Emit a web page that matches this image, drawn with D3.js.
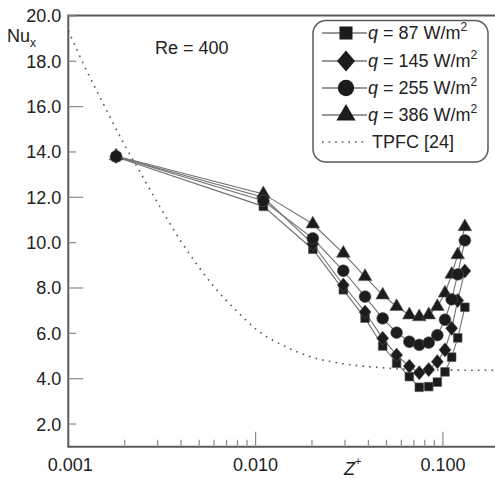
<!DOCTYPE html>
<html>
<head>
<meta charset="utf-8">
<script src="https://cdn.jsdelivr.net/npm/d3@7/dist/d3.min.js"></script>
<style>
  html, body { margin: 0; padding: 0; background: #fff; }
  svg { display: block; font-family: "Liberation Sans", Arial, Helvetica, sans-serif; }
</style>
</head>
<body>
<svg id="chart" width="495" height="479"></svg>
<script>
// Axial position Z+ shared by all measured series
const zPlus = [0.0018, 0.011, 0.0202, 0.0294, 0.0384, 0.0477, 0.0566, 0.0662, 0.0748, 0.084, 0.0934, 0.1026, 0.1114, 0.12, 0.131];

// Local Nusselt number for each heat flux
const nuQ87  = [13.78, 11.6, 9.71, 7.92, 6.67, 5.44, 4.68, 4.09, 3.62, 3.65, 3.85, 4.3, 4.95, 5.8, 7.15];
const nuQ145 = [13.8, 12.0, 9.95, 8.13, 6.94, 5.78, 5.04, 4.55, 4.26, 4.4, 4.75, 5.27, 6.22, 7.45, 8.75];
const nuQ255 = [13.8, 11.85, 10.19, 8.76, 7.62, 6.66, 6.03, 5.63, 5.49, 5.59, 5.92, 6.6, 7.5, 8.6, 10.1];
const nuQ386 = [13.82, 12.15, 10.82, 9.53, 8.5, 7.69, 7.18, 6.81, 6.73, 6.81, 7.18, 7.77, 8.6, 9.46, 10.7];

const seriesFlux = ["87", "145", "255", "386"];

// Rhombus a little narrower than it is tall
const symbolRhombus = {
  draw(context, size) {
    const h = Math.sqrt(size / 1.7);
    const w = h * 0.85;
    context.moveTo(0, -h);
    context.lineTo(w, 0);
    context.lineTo(0, h);
    context.lineTo(-w, 0);
    context.closePath();
  }
};
const seriesSymbols = [d3.symbolSquare, symbolRhombus, d3.symbolCircle, d3.symbolTriangle];

// Thermally developing flow correlation
const tpfcZ  = [0.001, 0.00125, 0.0015, 0.002, 0.0025, 0.003, 0.004, 0.005, 0.006, 0.008, 0.01, 0.015, 0.02, 0.03, 0.05, 0.1, 0.2];
const tpfcNu = [19.35, 17.6, 16.3, 14.3, 12.9, 11.75, 10.05, 8.9, 8.05, 6.95, 6.2, 5.35, 4.95, 4.65, 4.47, 4.38, 4.37];

const yTicks = [2, 4, 6, 8, 10, 12, 14, 16, 18, 20];
const xMajorTicks = [0.001, 0.01, 0.1];
const xMajorLabels = ["0.001", "0.010", "0.100"];
const xMinorTicks = [0.002, 0.003, 0.004, 0.005, 0.006, 0.007, 0.008, 0.009,
                     0.02, 0.03, 0.04, 0.05, 0.06, 0.07, 0.08, 0.09];

const svg = d3.select("#chart");
const plotLeft = 68.3, plotBottom = 446.7, plotTop = 15.9;
const x = d3.scaleLog().domain([0.001, 0.2]).range([plotLeft, plotLeft + 187.3 * Math.log10(200)]);
const y = d3.scaleLinear().domain([1, 20]).range([plotBottom, plotTop]);

const axisColor = "#5a5a5a";
const tickColor = "#8a8a8a";
const textColor = "#222";
const fontSize = 18;

// Frame: left, bottom and top edges
svg.append("path")
  .attr("d", `M495,${plotTop - 0.5} H${plotLeft} V${plotBottom} H495`)
  .attr("fill", "none").attr("stroke", axisColor).attr("stroke-width", 2);

// Y axis ticks and labels
const yAxis = svg.append("g");
yTicks.forEach(v => {
  const long = v % 4 === 0 && v !== 20;
  yAxis.append("line")
    .attr("x1", plotLeft).attr("x2", plotLeft + (long ? 15 : 8))
    .attr("y1", y(v)).attr("y2", y(v))
    .attr("stroke", tickColor).attr("stroke-width", 1.2);
  yAxis.append("text")
    .attr("x", plotLeft - 7).attr("y", y(v)).attr("dy", "0.36em")
    .attr("text-anchor", "end").attr("font-size", fontSize).attr("fill", textColor)
    .text(d3.format(".1f")(v));
});

// X axis ticks and labels
const xAxis = svg.append("g");
xMinorTicks.forEach(v => {
  xAxis.append("line")
    .attr("x1", x(v)).attr("x2", x(v))
    .attr("y1", plotBottom).attr("y2", plotBottom - 7)
    .attr("stroke", tickColor).attr("stroke-width", 1.2);
});
xMajorTicks.forEach((v, i) => {
  if (i > 0) {
    xAxis.append("line")
      .attr("x1", x(v)).attr("x2", x(v))
      .attr("y1", plotBottom).attr("y2", plotBottom - 15)
      .attr("stroke", tickColor).attr("stroke-width", 1.2);
  }
  xAxis.append("text")
    .attr("x", x(v) + (i === 0 ? 2 : 0)).attr("y", plotBottom + 24)
    .attr("text-anchor", "middle").attr("font-size", fontSize).attr("fill", textColor)
    .text(xMajorLabels[i]);
});

// Axis titles
const xTitle = svg.append("text").attr("x", 344).attr("y", 475)
  .attr("font-size", 18).attr("fill", textColor);
xTitle.append("tspan").attr("font-style", "italic").text("Z");
xTitle.append("tspan").attr("dy", -10).attr("font-size", 11).text("+");

const yTitle = svg.append("text").attr("x", 7).attr("y", 42)
  .attr("font-size", fontSize).attr("fill", textColor);
yTitle.append("tspan").text("Nu");
yTitle.append("tspan").attr("dy", 5).attr("font-size", 12).text("x");

svg.append("text").attr("x", 155).attr("y", 54)
  .attr("font-size", fontSize).attr("fill", textColor).text("Re = 400");

// Correlation curve
const tpfc = tpfcZ.map((z, i) => [z, tpfcNu[i]]);
svg.append("path")
  .datum(tpfc)
  .attr("d", d3.line().x(d => x(d[0])).y(d => y(d[1])).curve(d3.curveMonotoneX))
  .attr("fill", "none").attr("stroke", "#555")
  .attr("stroke-width", 1.6).attr("stroke-dasharray", "1.6,5.2");

// Measured series: connecting lines first, then markers (circles on top)
const seriesValues = [nuQ87, nuQ145, nuQ255, nuQ386];
const markerSize = [75, 85, 110, 80];
const drawOrder = [0, 1, 3, 2];
seriesValues.forEach(vals => {
  const pts = zPlus.map((z, i) => [z, vals[i]]);
  svg.append("path")
    .datum(pts)
    .attr("d", d3.line().x(d => x(d[0])).y(d => y(d[1])))
    .attr("fill", "none").attr("stroke", "#707070").attr("stroke-width", 1.1);
});
drawOrder.forEach(s => {
  const pts = zPlus.map((z, i) => [z, seriesValues[s][i]]);
  svg.append("g").selectAll("path")
    .data(pts).join("path")
    .attr("transform", d => `translate(${x(d[0])},${y(d[1])})`)
    .attr("d", d3.symbol().type(seriesSymbols[s]).size(markerSize[s]))
    .attr("fill", "#1c1c1c").attr("stroke", "#555").attr("stroke-width", 0.6);
});

// Legend
const legend = svg.append("g");
legend.append("rect")
  .attr("x", 313).attr("y", 20.5).attr("width", 175).attr("height", 141.5)
  .attr("rx", 13).attr("ry", 13)
  .attr("fill", "#fff").attr("stroke", axisColor).attr("stroke-width", 1.5);
const legendY = [33, 61, 88, 115];
const legendSize = [170, 190, 210, 160];
seriesFlux.forEach((q, i) => {
  const ly = legendY[i];
  legend.append("line").attr("x1", 322).attr("x2", 367).attr("y1", ly).attr("y2", ly)
    .attr("stroke", "#333").attr("stroke-width", 1.2);
  legend.append("path")
    .attr("transform", `translate(346,${ly})`)
    .attr("d", d3.symbol().type(seriesSymbols[i]).size(legendSize[i]))
    .attr("fill", "#1c1c1c");
  const t = legend.append("text").attr("x", 368).attr("y", ly).attr("dy", "0.36em")
    .attr("font-size", fontSize).attr("fill", textColor);
  t.append("tspan").attr("font-style", "italic").text("q");
  t.append("tspan").text(` = ${q} W/m`);
  t.append("tspan").attr("dy", -8).attr("font-size", 12).text("2");
});
legend.append("line").attr("x1", 322).attr("x2", 367).attr("y1", 142).attr("y2", 142)
  .attr("stroke", "#555").attr("stroke-width", 1.6).attr("stroke-dasharray", "1.6,5");
legend.append("text").attr("x", 372).attr("y", 142).attr("dy", "0.36em")
  .attr("font-size", fontSize).attr("fill", textColor).text("TPFC [24]");
</script>
</body>
</html>
